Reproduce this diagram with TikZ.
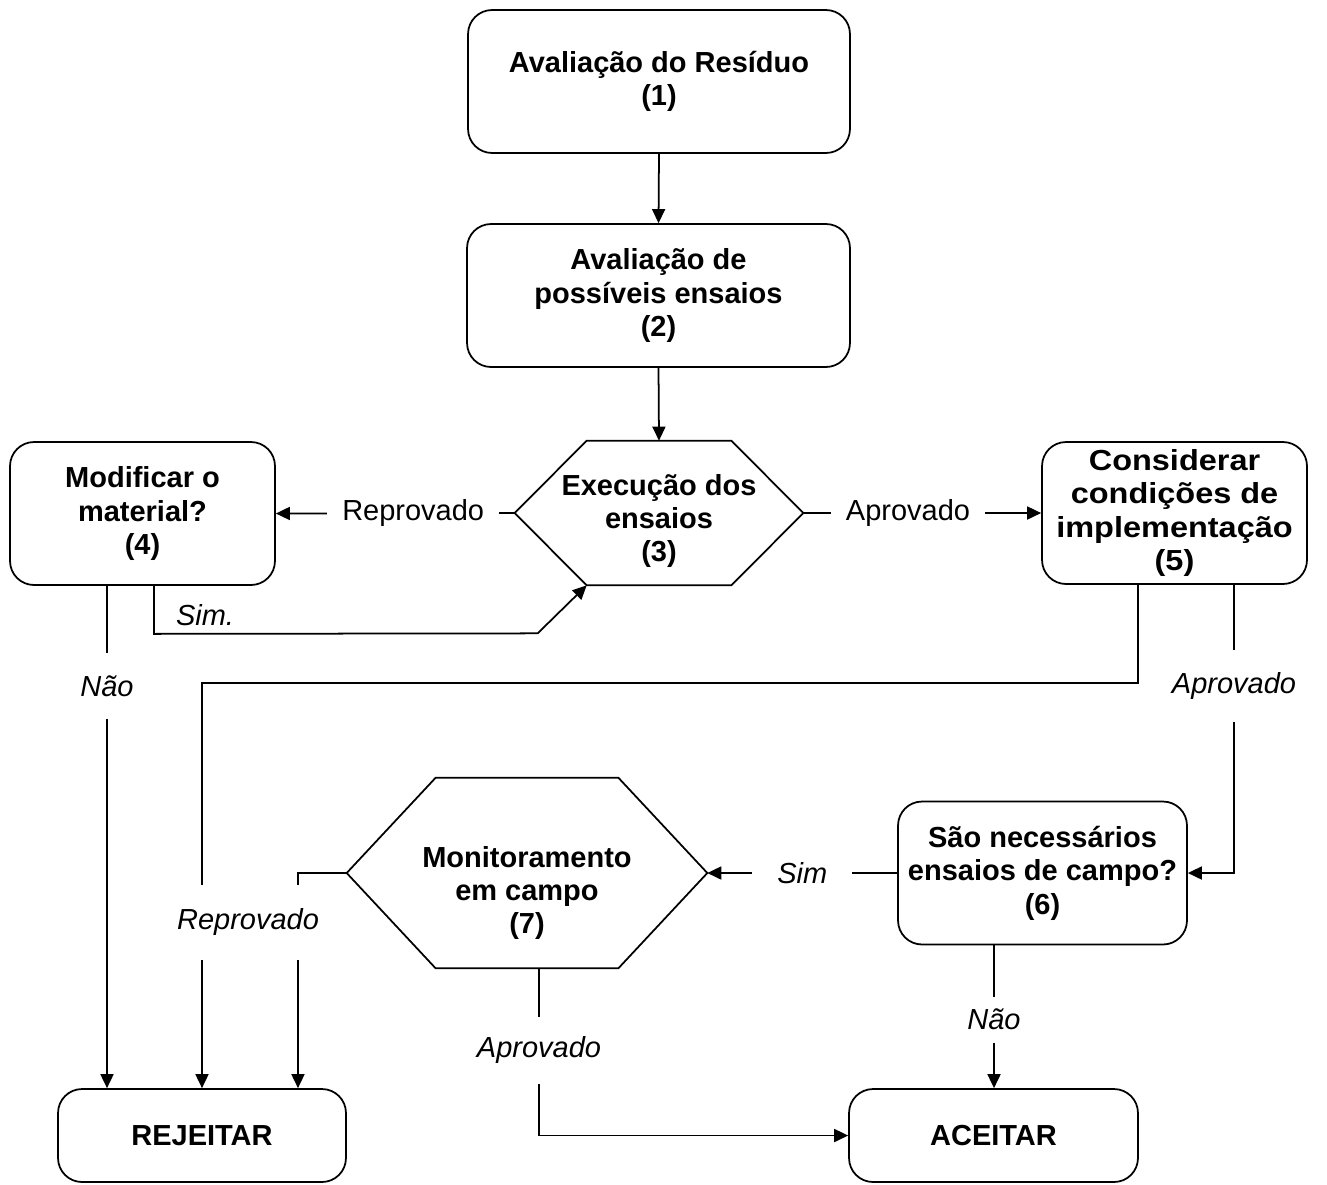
\documentclass[tikz,border=0pt]{standalone}
\usepackage{fontspec}
\setmainfont{Liberation Sans}
\newfontfamily\widefont[FakeStretch=1.12]{Liberation Sans}
\usetikzlibrary{arrows.meta,calc}
\begin{document}
\begin{tikzpicture}[x=0.02cm,y=-0.02cm,
  box/.style={draw, line width=1pt, rounded corners=0.48cm, align=center, inner sep=0pt, font=\bfseries\fontsize{16.5}{19}\selectfont},
  hexbase/.style={inner sep=0pt},
  hextext/.style={align=center, inner sep=0pt, font=\bfseries\fontsize{16.5}{19}\selectfont},
  conn/.style={line width=1pt},
  arr/.style={line width=1pt, -{Triangle[length=0.28cm,width=0.26cm]}},
  lblr/.style={fill=white, inner xsep=0.3cm, inner ysep=0.1cm, font=\fontsize{16.5}{19}\selectfont},
  lbli/.style={fill=white, inner xsep=0.1cm, inner ysep=0.45cm, font=\itshape\fontsize{16.5}{19}\selectfont},
  lblh/.style={fill=white, inner xsep=0.5cm, inner ysep=0.1cm, font=\itshape\fontsize{16.5}{19}\selectfont},
  plain/.style={inner sep=0pt, font=\itshape\fontsize{16.5}{19}\selectfont}
]
\useasboundingbox (0,0) rectangle (1327,1184);

% boxes
\node[box, minimum width=7.64cm, minimum height=2.86cm] (b1) at (659,81.5) {Avaliação do Resíduo\\(1)};
\node[box, minimum width=7.66cm, minimum height=2.86cm] (b2) at (658.5,295.5) {Avaliação de\\possíveis ensaios\\(2)};
\node[box, minimum width=5.3cm, minimum height=2.86cm] (b4) at (142.5,513.5) {Modificar o\\material?\\(4)};
\node[box, minimum width=5.3cm, minimum height=2.84cm, font=\widefont\bfseries\fontsize{16.5}{19}\selectfont] (b5) at (1174.5,513) {Considerar\\condições de\\implementação\\(5)};
\node[box, minimum width=5.78cm, minimum height=2.86cm] (b6) at (1042.5,873) {São necessários\\ensaios de campo?\\(6)};
\node[box, minimum width=5.76cm, minimum height=1.86cm] (rej) at (202,1135.5) {REJEITAR};
\node[box, minimum width=5.78cm, minimum height=1.86cm] (ace) at (993.5,1135.5) {ACEITAR};

% hexagons
\node[hexbase, minimum width=5.76cm, minimum height=2.88cm] (h3) at (659,513) {};
\draw[conn] (h3.west) -- ([xshift=1.44cm]h3.north west) -- ([xshift=-1.44cm]h3.north east) -- (h3.east)
  -- ([xshift=-1.44cm]h3.south east) -- ([xshift=1.44cm]h3.south west) -- cycle;
\node[hextext] (t3) at (659,521) {Execução dos\\ensaios\\(3)};
\coordinate (h3bl) at ([xshift=1.44cm]h3.south west);

\node[hexbase, minimum width=7.2cm, minimum height=3.8cm] (h7) at (527,873) {};
\draw[conn] (h7.west) -- ([xshift=1.78cm]h7.north west) -- ([xshift=-1.78cm]h7.north east) -- (h7.east)
  -- ([xshift=-1.78cm]h7.south east) -- ([xshift=1.78cm]h7.south west) -- cycle;
\node[hextext] (t7) at (527,893) {Monitoramento\\em campo\\(7)};

% connectors
\draw[arr] (b1.south) -- (b2.north);
\draw[arr] (b2.south) -- (h3.north);
\draw[arr] (h3.west) -- node[lblr, pos=0.425] {Reprovado} (b4.east);
\draw[arr] (h3.east) -- node[lblr, pos=0.44] {Aprovado} (b5.west);

\coordinate (c4r) at ([xshift=0.23cm]b4.south);
\draw[arr] (c4r) -- ++(0,48) -- ($(h3bl)+(-49,48)$) -- (h3bl);
\node[plain] (lsim) at (205,615) {Sim.};

\coordinate (c4l) at ([xshift=-0.71cm]b4.south);
\draw[arr] (c4l) -- node[lbli, pos=0.2] {Não} (c4l |- rej.north);

\coordinate (c5l) at ([xshift=-0.73cm]b5.south);
\draw[arr] (c5l) -- ++(0,98) -| (rej.north);

\coordinate (c5r) at ([xshift=1.19cm]b5.south);
\draw[arr] (c5r) |- node[lbli, pos=0.175] {Aprovado} (b6.east);

\draw[arr] (b6.west) -- node[lblh, pos=0.5] {Sim} (h7.east);

\coordinate (c6) at ([xshift=-0.97cm]b6.south);
\draw[arr] (c6) -- node[lbli, inner ysep=0.25cm, pos=0.52] {Não} (c6 |- ace.north);

\draw[arr] (h7.west) -| ([xshift=1.92cm]rej.north);
\node[lbli, inner ysep=0.48cm] (lrep7) at (248,922) {Reprovado};

\coordinate (c7) at ([xshift=0.24cm]h7.south);
\draw[arr] (c7) |- node[lbli, inner ysep=0.4cm, pos=0.245] {Aprovado} (ace.west);
\end{tikzpicture}
\end{document}
